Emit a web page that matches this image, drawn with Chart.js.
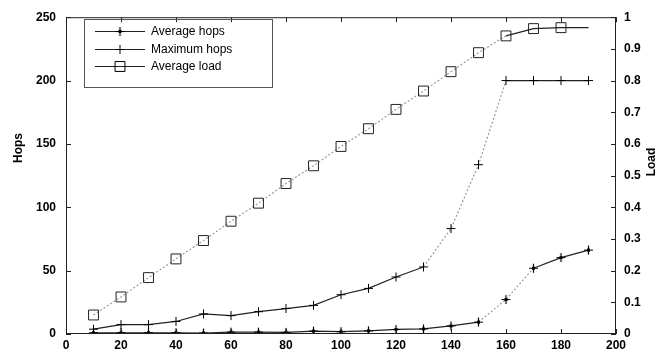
<!DOCTYPE html>
<html>
<head>
<meta charset="utf-8">
<script src="https://cdn.jsdelivr.net/npm/chart.js@4"></script>
<style>
html,body{margin:0;padding:0;background:#fff;}
#wrap{width:668px;height:354px;}
</style>
</head>
<body>
<div id="wrap"><canvas id="c" width="668" height="354"></canvas></div>
<script>
const xValues = [10,20,30,40,50,60,70,80,90,100,110,120,130,140,150,160,170,180,190];
const avgHops = [1,1,1,1,0.8,1.5,1.5,1.3,2.3,1.8,2.5,3.6,4,6.4,9.4,27.2,51.9,60.3,66.2];
const maxHops = [3.8,7.4,7.4,9.9,15.8,14.5,17.6,20.1,22.6,31,36,45,52.9,83.2,133.6,200,200,200,200];
const avgLoad = [0.06,0.117,0.178,0.237,0.295,0.356,0.413,0.475,0.531,0.592,0.648,0.709,0.767,0.828,0.888,0.941,0.964,0.967,0.967];
const seriesLabels = ['Average hops','Maximum hops','Average load'];
const xTicks = [0,20,40,60,80,100,120,140,160,180,200];
const hopsTicks = [0,50,100,150,200,250];
const loadTicks = [0,0.1,0.2,0.3,0.4,0.5,0.6,0.7,0.8,0.9,1];

const FONT = 'Liberation Sans, Arial, sans-serif';
const SOLID = '#222';
const DOT = '#9a9a9a';

// "+" marker with a filled centre
const plusDot = document.createElement('canvas');
plusDot.width = 11; plusDot.height = 11;
(function(){
  const g = plusDot.getContext('2d');
  g.strokeStyle = '#000'; g.lineWidth = 1.2;
  g.beginPath(); g.moveTo(5.5,1); g.lineTo(5.5,10); g.moveTo(1,5.5); g.lineTo(10,5.5); g.stroke();
  g.fillStyle = '#000'; g.fillRect(4,4,3,3);
})();

function pts(ys){ return xValues.map((x,i)=>({x:x,y:ys[i]})); }
function seg(dottedIdx){
  return {
    borderColor: c => dottedIdx(c.p0DataIndex) ? DOT : SOLID,
    borderDash: c => dottedIdx(c.p0DataIndex) ? [2,2] : undefined
  };
}

const overlay = {
  id:'overlay',
  afterDraw(chart){
    const ctx = chart.ctx, a = chart.chartArea;
    const sx = chart.scales.x, sy = chart.scales.y, sl = chart.scales.y1;
    ctx.save();
    ctx.strokeStyle = '#222'; ctx.lineWidth = 1;
    ctx.strokeRect(a.left+0.5, a.top+0.5, a.right-a.left-1, a.bottom-a.top-1);
    const T = 5;
    ctx.beginPath();
    xTicks.forEach(v=>{
      const px = Math.round(sx.getPixelForValue(v))+0.5;
      ctx.moveTo(px,a.bottom); ctx.lineTo(px,a.bottom-T);
      ctx.moveTo(px,a.top); ctx.lineTo(px,a.top+T);
    });
    hopsTicks.forEach(v=>{
      const py = Math.round(sy.getPixelForValue(v))+0.5;
      ctx.moveTo(a.left,py); ctx.lineTo(a.left+T,py);
    });
    loadTicks.forEach(v=>{
      const py = Math.round(sl.getPixelForValue(v))+0.5;
      ctx.moveTo(a.right,py); ctx.lineTo(a.right-T,py);
    });
    ctx.stroke();
    ctx.fillStyle = '#000';
    ctx.font = 'bold 12px ' + FONT;
    ctx.textAlign = 'center'; ctx.textBaseline = 'middle';
    ctx.save(); ctx.translate(19,148); ctx.rotate(-Math.PI/2); ctx.fillText('Hops',0,0); ctx.restore();
    ctx.save(); ctx.translate(652,162); ctx.rotate(-Math.PI/2); ctx.fillText('Load',0,0); ctx.restore();
    // legend
    const bx=84, by=19, bw=188, bh=68;
    ctx.strokeStyle = '#555'; ctx.lineWidth = 1;
    ctx.strokeRect(bx+0.5, by+0.5, bw, bh);
    const rows = [31.5, 49.5, 66.5];
    chart.data.datasets.forEach((ds,i)=>{
      const y = rows[i];
      ctx.strokeStyle = SOLID; ctx.lineWidth = 1; ctx.setLineDash([]);
      ctx.beginPath(); ctx.moveTo(95,y); ctx.lineTo(145,y); ctx.stroke();
      ctx.fillStyle = 'rgba(0,0,0,0)'; ctx.strokeStyle = '#000';
      Chart.helpers.drawPoint(ctx, {pointStyle: ds.pointStyle, rotation:0, radius: ds.legendRadius, borderWidth:1}, 120, y);
      ctx.fillStyle = '#000';
      ctx.font = '12px ' + FONT; ctx.textAlign='left'; ctx.textBaseline='middle';
      ctx.fillText(ds.label, 151, y+0.5);
    });
    ctx.restore();
  }
};

const tickFont = {family:FONT, size:12, weight:'bold'};

new Chart(document.getElementById('c'), {
  type:'line',
  data:{
    datasets:[
      {label:seriesLabels[0], data:pts(avgHops), yAxisID:'y', pointStyle:plusDot, pointRadius:5, legendRadius:5,
       borderColor:SOLID, borderWidth:1.2,
       segment: seg(i => i===14 || i===15)},
      {label:seriesLabels[1], data:pts(maxHops), yAxisID:'y', pointStyle:'cross', pointRadius:4.5, legendRadius:4.5,
       borderColor:SOLID, pointBorderColor:'#000', borderWidth:1.2, pointBorderWidth:1,
       segment: seg(i => i>=12 && i<=14)},
      {label:seriesLabels[2], data:pts(avgLoad), yAxisID:'y1', pointStyle:'rect', legendRadius:7,
       pointRadius: c => c.dataIndex === xValues.length-1 ? 0 : 7,
       borderColor:SOLID, pointBorderColor:'#222', pointBackgroundColor:'rgba(0,0,0,0)', borderWidth:1.2, pointBorderWidth:1,
       segment: seg(i => i<=14)}
    ]
  },
  options:{
    responsive:false, animation:false,
    layout:{padding:{top:7,right:0,left:0,bottom:0}},
    plugins:{legend:{display:false}, tooltip:{enabled:false}},
    elements:{line:{tension:0}},
    scales:{
      x:{type:'linear', min:0, max:200, border:{display:false},
         grid:{display:false, drawTicks:false, tickLength:0},
         afterFit(s){ s.height = 20; },
         afterBuildTicks(s){ s.ticks = xTicks.map(v=>({value:v})); },
         ticks:{padding:4, color:'#000', font:tickFont, maxRotation:0, autoSkip:false}},
      y:{position:'left', min:0, max:250, border:{display:false},
         grid:{display:false, drawTicks:false, tickLength:0},
         afterFit(s){ s.width = 66; },
         afterBuildTicks(s){ s.ticks = hopsTicks.map(v=>({value:v})); },
         ticks:{padding:10, color:'#000', font:tickFont}},
      y1:{position:'right', min:0, max:1, border:{display:false},
         grid:{display:false, drawTicks:false, tickLength:0},
         afterFit(s){ s.width = 52; },
         afterBuildTicks(s){ s.ticks = loadTicks.map(v=>({value:v})); },
         ticks:{padding:8, color:'#000', font:tickFont, callback:v=>String(Math.round(v*10)/10)}}
    }
  },
  plugins:[overlay]
});
</script>
</body>
</html>
